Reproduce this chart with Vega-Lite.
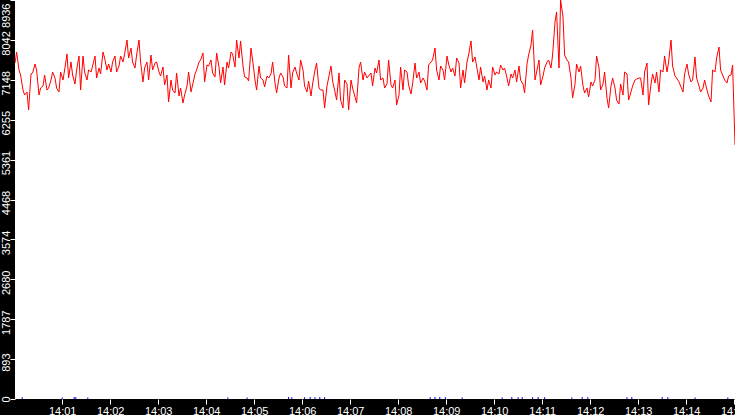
{
  "$schema": "https://vega.github.io/schema/vega-lite/v6.json",
  "description": "Red time series over one quarter hour, black frame with white axis labels.",
  "width": 720,
  "height": 399,
  "autosize": {"type": "none"},
  "padding": {"left": 15, "top": 0, "right": 0, "bottom": 16},
  "background": "black",
  "config": {
    "view": {"stroke": null, "fill": "white"},
    "font": "Liberation Sans",
    "axis": {
      "domain": false,
      "grid": false,
      "title": null,
      "tickColor": "white",
      "tickSize": 5,
      "tickWidth": 1,
      "labelColor": "white",
      "labelFont": "Liberation Sans",
      "labelFontSize": 11,
      "labelOverlap": false,
      "labelBound": false,
      "labelFlush": false
    }
  },
  "encoding": {
    "x": {
      "field": "t",
      "type": "temporal",
      "scale": {"type": "utc", "domain": [1704117601000, 1704118501000], "nice": false},
      "axis": {
        "orient": "bottom",
        "labelExpr": "utcFormat(datum.value, '%H:%M')",
        "values": [1704117660000, 1704117720000, 1704117780000, 1704117840000, 1704117900000, 1704117960000, 1704118020000, 1704118080000, 1704118140000, 1704118200000, 1704118260000, 1704118320000, 1704118380000, 1704118440000, 1704118500000],
        "labelPadding": 1
      }
    },
    "y": {
      "field": "v",
      "type": "quantitative",
      "scale": {"domain": [0, 8936], "nice": false, "zero": true},
      "axis": {
        "orient": "left",
        "values": [0, 893.6, 1787.2, 2680.8, 3574.4, 4468, 5361.6, 6255.2, 7148.8, 8042.4, 8936],
        "labelExpr": "'' + floor(datum.value)",
        "labelAngle": -90,
        "labelAlign": {"condition": [{"test": "datum.value > 8900", "value": "right"}, {"test": "datum.value < 1", "value": "left"}], "value": "center"},
        "labelOffset": 3,
        "labelBaseline": "alphabetic",
        "labelPadding": 1
      }
    }
  },
  "layer": [
    {
      "data": {
        "values": [
          {"t": "2024-01-01T14:00:10Z", "v": 40}, {"t": "2024-01-01T14:01:00Z", "v": 35}, {"t": "2024-01-01T14:01:15Z", "v": 45}, {"t": "2024-01-01T14:01:17Z", "v": 40},
          {"t": "2024-01-01T14:01:32Z", "v": 35}, {"t": "2024-01-01T14:04:27Z", "v": 35}, {"t": "2024-01-01T14:04:51Z", "v": 35}, {"t": "2024-01-01T14:05:43Z", "v": 45},
          {"t": "2024-01-01T14:05:47Z", "v": 40}, {"t": "2024-01-01T14:06:03Z", "v": 40}, {"t": "2024-01-01T14:06:10Z", "v": 45}, {"t": "2024-01-01T14:06:16Z", "v": 40},
          {"t": "2024-01-01T14:06:22Z", "v": 45}, {"t": "2024-01-01T14:06:28Z", "v": 40}, {"t": "2024-01-01T14:08:40Z", "v": 40}, {"t": "2024-01-01T14:08:46Z", "v": 45},
          {"t": "2024-01-01T14:08:52Z", "v": 45}, {"t": "2024-01-01T14:08:59Z", "v": 40}, {"t": "2024-01-01T14:09:20Z", "v": 35}, {"t": "2024-01-01T14:10:10Z", "v": 35},
          {"t": "2024-01-01T14:10:22Z", "v": 45}, {"t": "2024-01-01T14:10:30Z", "v": 40}, {"t": "2024-01-01T14:10:35Z", "v": 45}, {"t": "2024-01-01T14:10:48Z", "v": 40},
          {"t": "2024-01-01T14:10:55Z", "v": 45}, {"t": "2024-01-01T14:11:03Z", "v": 40}, {"t": "2024-01-01T14:11:37Z", "v": 35}, {"t": "2024-01-01T14:11:50Z", "v": 45},
          {"t": "2024-01-01T14:11:57Z", "v": 40}, {"t": "2024-01-01T14:12:46Z", "v": 40}, {"t": "2024-01-01T14:12:52Z", "v": 45}, {"t": "2024-01-01T14:13:30Z", "v": 45},
          {"t": "2024-01-01T14:13:37Z", "v": 40}, {"t": "2024-01-01T14:14:11Z", "v": 35}, {"t": "2024-01-01T14:14:52Z", "v": 35}
        ]
      },
      "mark": {"type": "rule", "color": "#0000ff", "strokeWidth": 1},
      "encoding": {"y2": {"datum": 0}}
    },
    {
      "data": {
        "values": [
          {"t": "2024-01-01T14:00:01Z", "v": 7525}, {"t": "2024-01-01T14:00:03Z", "v": 7771}, {"t": "2024-01-01T14:00:06Z", "v": 7368}, {"t": "2024-01-01T14:00:08Z", "v": 7256},
          {"t": "2024-01-01T14:00:11Z", "v": 6920}, {"t": "2024-01-01T14:00:13Z", "v": 6808}, {"t": "2024-01-01T14:00:16Z", "v": 6876}, {"t": "2024-01-01T14:00:18Z", "v": 6472},
          {"t": "2024-01-01T14:00:21Z", "v": 7279}, {"t": "2024-01-01T14:00:23Z", "v": 7301}, {"t": "2024-01-01T14:00:26Z", "v": 7503}, {"t": "2024-01-01T14:00:28Z", "v": 7368},
          {"t": "2024-01-01T14:00:31Z", "v": 6808}, {"t": "2024-01-01T14:00:33Z", "v": 6965}, {"t": "2024-01-01T14:00:36Z", "v": 7010}, {"t": "2024-01-01T14:00:38Z", "v": 7256},
          {"t": "2024-01-01T14:00:41Z", "v": 6920}, {"t": "2024-01-01T14:00:43Z", "v": 6965}, {"t": "2024-01-01T14:00:46Z", "v": 7144}, {"t": "2024-01-01T14:00:48Z", "v": 7323},
          {"t": "2024-01-01T14:00:51Z", "v": 7189}, {"t": "2024-01-01T14:00:53Z", "v": 6965}, {"t": "2024-01-01T14:00:56Z", "v": 6876}, {"t": "2024-01-01T14:00:58Z", "v": 7323},
          {"t": "2024-01-01T14:01:01Z", "v": 7144}, {"t": "2024-01-01T14:01:03Z", "v": 7368}, {"t": "2024-01-01T14:01:06Z", "v": 7727}, {"t": "2024-01-01T14:01:08Z", "v": 7189},
          {"t": "2024-01-01T14:01:11Z", "v": 7547}, {"t": "2024-01-01T14:01:13Z", "v": 7256}, {"t": "2024-01-01T14:01:16Z", "v": 7055}, {"t": "2024-01-01T14:01:18Z", "v": 7368},
          {"t": "2024-01-01T14:01:21Z", "v": 7682}, {"t": "2024-01-01T14:01:23Z", "v": 6920}, {"t": "2024-01-01T14:01:26Z", "v": 7682}, {"t": "2024-01-01T14:01:28Z", "v": 7323},
          {"t": "2024-01-01T14:01:31Z", "v": 7144}, {"t": "2024-01-01T14:01:33Z", "v": 7368}, {"t": "2024-01-01T14:01:36Z", "v": 7323}, {"t": "2024-01-01T14:01:38Z", "v": 7458},
          {"t": "2024-01-01T14:01:41Z", "v": 7682}, {"t": "2024-01-01T14:01:43Z", "v": 7189}, {"t": "2024-01-01T14:01:46Z", "v": 7413}, {"t": "2024-01-01T14:01:48Z", "v": 7279},
          {"t": "2024-01-01T14:01:51Z", "v": 7771}, {"t": "2024-01-01T14:01:53Z", "v": 7637}, {"t": "2024-01-01T14:01:56Z", "v": 7368}, {"t": "2024-01-01T14:01:58Z", "v": 7503},
          {"t": "2024-01-01T14:02:01Z", "v": 7323}, {"t": "2024-01-01T14:02:03Z", "v": 7547}, {"t": "2024-01-01T14:02:06Z", "v": 7682}, {"t": "2024-01-01T14:02:08Z", "v": 7323},
          {"t": "2024-01-01T14:02:11Z", "v": 7458}, {"t": "2024-01-01T14:02:13Z", "v": 7682}, {"t": "2024-01-01T14:02:16Z", "v": 7547}, {"t": "2024-01-01T14:02:18Z", "v": 7727},
          {"t": "2024-01-01T14:02:21Z", "v": 8040}, {"t": "2024-01-01T14:02:23Z", "v": 7637}, {"t": "2024-01-01T14:02:26Z", "v": 7861}, {"t": "2024-01-01T14:02:28Z", "v": 7547},
          {"t": "2024-01-01T14:02:31Z", "v": 7413}, {"t": "2024-01-01T14:02:33Z", "v": 7704}, {"t": "2024-01-01T14:02:36Z", "v": 8040}, {"t": "2024-01-01T14:02:38Z", "v": 7547},
          {"t": "2024-01-01T14:02:41Z", "v": 7100}, {"t": "2024-01-01T14:02:43Z", "v": 7413}, {"t": "2024-01-01T14:02:46Z", "v": 7547}, {"t": "2024-01-01T14:02:48Z", "v": 7144},
          {"t": "2024-01-01T14:02:51Z", "v": 7704}, {"t": "2024-01-01T14:02:53Z", "v": 7368}, {"t": "2024-01-01T14:02:56Z", "v": 7525}, {"t": "2024-01-01T14:02:58Z", "v": 7547},
          {"t": "2024-01-01T14:03:01Z", "v": 7323}, {"t": "2024-01-01T14:03:03Z", "v": 7234}, {"t": "2024-01-01T14:03:06Z", "v": 7435}, {"t": "2024-01-01T14:03:08Z", "v": 7032},
          {"t": "2024-01-01T14:03:11Z", "v": 7256}, {"t": "2024-01-01T14:03:13Z", "v": 6652}, {"t": "2024-01-01T14:03:16Z", "v": 7144}, {"t": "2024-01-01T14:03:18Z", "v": 6920},
          {"t": "2024-01-01T14:03:21Z", "v": 6853}, {"t": "2024-01-01T14:03:23Z", "v": 7301}, {"t": "2024-01-01T14:03:26Z", "v": 6786}, {"t": "2024-01-01T14:03:28Z", "v": 6965},
          {"t": "2024-01-01T14:03:31Z", "v": 6629}, {"t": "2024-01-01T14:03:33Z", "v": 6808}, {"t": "2024-01-01T14:03:36Z", "v": 7010}, {"t": "2024-01-01T14:03:38Z", "v": 7323},
          {"t": "2024-01-01T14:03:41Z", "v": 6876}, {"t": "2024-01-01T14:03:43Z", "v": 7032}, {"t": "2024-01-01T14:03:46Z", "v": 7279}, {"t": "2024-01-01T14:03:48Z", "v": 7368},
          {"t": "2024-01-01T14:03:51Z", "v": 7547}, {"t": "2024-01-01T14:03:53Z", "v": 7592}, {"t": "2024-01-01T14:03:56Z", "v": 7749}, {"t": "2024-01-01T14:03:58Z", "v": 7100},
          {"t": "2024-01-01T14:04:01Z", "v": 7480}, {"t": "2024-01-01T14:04:03Z", "v": 7458}, {"t": "2024-01-01T14:04:06Z", "v": 7592}, {"t": "2024-01-01T14:04:08Z", "v": 7301},
          {"t": "2024-01-01T14:04:11Z", "v": 7212}, {"t": "2024-01-01T14:04:13Z", "v": 7749}, {"t": "2024-01-01T14:04:16Z", "v": 7435}, {"t": "2024-01-01T14:04:18Z", "v": 7077},
          {"t": "2024-01-01T14:04:21Z", "v": 7435}, {"t": "2024-01-01T14:04:23Z", "v": 7032}, {"t": "2024-01-01T14:04:26Z", "v": 7547}, {"t": "2024-01-01T14:04:28Z", "v": 7413},
          {"t": "2024-01-01T14:04:31Z", "v": 7771}, {"t": "2024-01-01T14:04:33Z", "v": 7727}, {"t": "2024-01-01T14:04:36Z", "v": 7435}, {"t": "2024-01-01T14:04:38Z", "v": 8040},
          {"t": "2024-01-01T14:04:41Z", "v": 7637}, {"t": "2024-01-01T14:04:43Z", "v": 8018}, {"t": "2024-01-01T14:04:46Z", "v": 7458}, {"t": "2024-01-01T14:04:48Z", "v": 7212},
          {"t": "2024-01-01T14:04:51Z", "v": 7189}, {"t": "2024-01-01T14:04:53Z", "v": 7122}, {"t": "2024-01-01T14:04:56Z", "v": 7861}, {"t": "2024-01-01T14:04:58Z", "v": 7592},
          {"t": "2024-01-01T14:05:01Z", "v": 7144}, {"t": "2024-01-01T14:05:03Z", "v": 6920}, {"t": "2024-01-01T14:05:06Z", "v": 7458}, {"t": "2024-01-01T14:05:08Z", "v": 7189},
          {"t": "2024-01-01T14:05:11Z", "v": 7144}, {"t": "2024-01-01T14:05:13Z", "v": 6988}, {"t": "2024-01-01T14:05:16Z", "v": 7234}, {"t": "2024-01-01T14:05:18Z", "v": 7189},
          {"t": "2024-01-01T14:05:21Z", "v": 7279}, {"t": "2024-01-01T14:05:23Z", "v": 7547}, {"t": "2024-01-01T14:05:26Z", "v": 7077}, {"t": "2024-01-01T14:05:28Z", "v": 6853},
          {"t": "2024-01-01T14:05:31Z", "v": 7189}, {"t": "2024-01-01T14:05:33Z", "v": 7301}, {"t": "2024-01-01T14:05:36Z", "v": 7212}, {"t": "2024-01-01T14:05:38Z", "v": 7010},
          {"t": "2024-01-01T14:05:41Z", "v": 6965}, {"t": "2024-01-01T14:05:43Z", "v": 7704}, {"t": "2024-01-01T14:05:46Z", "v": 6965}, {"t": "2024-01-01T14:05:48Z", "v": 7301},
          {"t": "2024-01-01T14:05:51Z", "v": 7435}, {"t": "2024-01-01T14:05:53Z", "v": 7301}, {"t": "2024-01-01T14:05:56Z", "v": 7144}, {"t": "2024-01-01T14:05:58Z", "v": 7592},
          {"t": "2024-01-01T14:06:01Z", "v": 7368}, {"t": "2024-01-01T14:06:03Z", "v": 7010}, {"t": "2024-01-01T14:06:06Z", "v": 6876}, {"t": "2024-01-01T14:06:08Z", "v": 7122},
          {"t": "2024-01-01T14:06:11Z", "v": 6786}, {"t": "2024-01-01T14:06:13Z", "v": 7055}, {"t": "2024-01-01T14:06:16Z", "v": 7368}, {"t": "2024-01-01T14:06:18Z", "v": 7525},
          {"t": "2024-01-01T14:06:21Z", "v": 6965}, {"t": "2024-01-01T14:06:23Z", "v": 6920}, {"t": "2024-01-01T14:06:26Z", "v": 6920}, {"t": "2024-01-01T14:06:28Z", "v": 6517},
          {"t": "2024-01-01T14:06:31Z", "v": 7010}, {"t": "2024-01-01T14:06:33Z", "v": 7189}, {"t": "2024-01-01T14:06:36Z", "v": 7458}, {"t": "2024-01-01T14:06:38Z", "v": 7122},
          {"t": "2024-01-01T14:06:41Z", "v": 6876}, {"t": "2024-01-01T14:06:43Z", "v": 6696}, {"t": "2024-01-01T14:06:46Z", "v": 7301}, {"t": "2024-01-01T14:06:48Z", "v": 6696},
          {"t": "2024-01-01T14:06:51Z", "v": 6517}, {"t": "2024-01-01T14:06:53Z", "v": 7144}, {"t": "2024-01-01T14:06:56Z", "v": 7055}, {"t": "2024-01-01T14:06:58Z", "v": 6472},
          {"t": "2024-01-01T14:07:01Z", "v": 7144}, {"t": "2024-01-01T14:07:03Z", "v": 6965}, {"t": "2024-01-01T14:07:06Z", "v": 6764}, {"t": "2024-01-01T14:07:08Z", "v": 6629},
          {"t": "2024-01-01T14:07:11Z", "v": 7413}, {"t": "2024-01-01T14:07:13Z", "v": 7547}, {"t": "2024-01-01T14:07:16Z", "v": 7144}, {"t": "2024-01-01T14:07:18Z", "v": 7323},
          {"t": "2024-01-01T14:07:21Z", "v": 7189}, {"t": "2024-01-01T14:07:23Z", "v": 7234}, {"t": "2024-01-01T14:07:26Z", "v": 7301}, {"t": "2024-01-01T14:07:28Z", "v": 7010},
          {"t": "2024-01-01T14:07:31Z", "v": 7413}, {"t": "2024-01-01T14:07:33Z", "v": 7301}, {"t": "2024-01-01T14:07:36Z", "v": 7592}, {"t": "2024-01-01T14:07:38Z", "v": 7144},
          {"t": "2024-01-01T14:07:41Z", "v": 7189}, {"t": "2024-01-01T14:07:43Z", "v": 6965}, {"t": "2024-01-01T14:07:46Z", "v": 7055}, {"t": "2024-01-01T14:07:48Z", "v": 7592},
          {"t": "2024-01-01T14:07:51Z", "v": 7032}, {"t": "2024-01-01T14:07:53Z", "v": 6965}, {"t": "2024-01-01T14:07:56Z", "v": 7144}, {"t": "2024-01-01T14:07:58Z", "v": 6584},
          {"t": "2024-01-01T14:08:01Z", "v": 6808}, {"t": "2024-01-01T14:08:03Z", "v": 7435}, {"t": "2024-01-01T14:08:06Z", "v": 6920}, {"t": "2024-01-01T14:08:08Z", "v": 7368},
          {"t": "2024-01-01T14:08:11Z", "v": 7323}, {"t": "2024-01-01T14:08:13Z", "v": 7032}, {"t": "2024-01-01T14:08:16Z", "v": 6831}, {"t": "2024-01-01T14:08:18Z", "v": 7055},
          {"t": "2024-01-01T14:08:21Z", "v": 7525}, {"t": "2024-01-01T14:08:23Z", "v": 7189}, {"t": "2024-01-01T14:08:26Z", "v": 7323}, {"t": "2024-01-01T14:08:28Z", "v": 7077},
          {"t": "2024-01-01T14:08:31Z", "v": 7189}, {"t": "2024-01-01T14:08:33Z", "v": 7122}, {"t": "2024-01-01T14:08:36Z", "v": 6920}, {"t": "2024-01-01T14:08:38Z", "v": 7480},
          {"t": "2024-01-01T14:08:41Z", "v": 7547}, {"t": "2024-01-01T14:08:43Z", "v": 7592}, {"t": "2024-01-01T14:08:46Z", "v": 7861}, {"t": "2024-01-01T14:08:48Z", "v": 7368},
          {"t": "2024-01-01T14:08:51Z", "v": 7144}, {"t": "2024-01-01T14:08:53Z", "v": 7458}, {"t": "2024-01-01T14:08:56Z", "v": 7368}, {"t": "2024-01-01T14:08:58Z", "v": 7144},
          {"t": "2024-01-01T14:09:01Z", "v": 7682}, {"t": "2024-01-01T14:09:03Z", "v": 7503}, {"t": "2024-01-01T14:09:06Z", "v": 7323}, {"t": "2024-01-01T14:09:08Z", "v": 7413},
          {"t": "2024-01-01T14:09:11Z", "v": 7234}, {"t": "2024-01-01T14:09:13Z", "v": 7637}, {"t": "2024-01-01T14:09:16Z", "v": 7525}, {"t": "2024-01-01T14:09:18Z", "v": 6965},
          {"t": "2024-01-01T14:09:21Z", "v": 7368}, {"t": "2024-01-01T14:09:23Z", "v": 7077}, {"t": "2024-01-01T14:09:26Z", "v": 7547}, {"t": "2024-01-01T14:09:28Z", "v": 7704},
          {"t": "2024-01-01T14:09:31Z", "v": 8018}, {"t": "2024-01-01T14:09:33Z", "v": 7547}, {"t": "2024-01-01T14:09:36Z", "v": 7659}, {"t": "2024-01-01T14:09:38Z", "v": 7458},
          {"t": "2024-01-01T14:09:41Z", "v": 7144}, {"t": "2024-01-01T14:09:43Z", "v": 7435}, {"t": "2024-01-01T14:09:46Z", "v": 7100}, {"t": "2024-01-01T14:09:48Z", "v": 7234},
          {"t": "2024-01-01T14:09:51Z", "v": 6920}, {"t": "2024-01-01T14:09:53Z", "v": 7144}, {"t": "2024-01-01T14:09:56Z", "v": 6965}, {"t": "2024-01-01T14:09:58Z", "v": 7435},
          {"t": "2024-01-01T14:10:01Z", "v": 7256}, {"t": "2024-01-01T14:10:03Z", "v": 7323}, {"t": "2024-01-01T14:10:06Z", "v": 7279}, {"t": "2024-01-01T14:10:08Z", "v": 7480},
          {"t": "2024-01-01T14:10:11Z", "v": 7368}, {"t": "2024-01-01T14:10:13Z", "v": 7413}, {"t": "2024-01-01T14:10:16Z", "v": 7189}, {"t": "2024-01-01T14:10:18Z", "v": 7010},
          {"t": "2024-01-01T14:10:21Z", "v": 7279}, {"t": "2024-01-01T14:10:23Z", "v": 7189}, {"t": "2024-01-01T14:10:26Z", "v": 7368}, {"t": "2024-01-01T14:10:28Z", "v": 7100},
          {"t": "2024-01-01T14:10:31Z", "v": 7458}, {"t": "2024-01-01T14:10:33Z", "v": 7144}, {"t": "2024-01-01T14:10:36Z", "v": 7055}, {"t": "2024-01-01T14:10:38Z", "v": 6853},
          {"t": "2024-01-01T14:10:41Z", "v": 7503}, {"t": "2024-01-01T14:10:43Z", "v": 7704}, {"t": "2024-01-01T14:10:46Z", "v": 7928}, {"t": "2024-01-01T14:10:48Z", "v": 8264},
          {"t": "2024-01-01T14:10:51Z", "v": 7144}, {"t": "2024-01-01T14:10:53Z", "v": 7323}, {"t": "2024-01-01T14:10:56Z", "v": 7592}, {"t": "2024-01-01T14:10:58Z", "v": 7032},
          {"t": "2024-01-01T14:11:01Z", "v": 7234}, {"t": "2024-01-01T14:11:03Z", "v": 7413}, {"t": "2024-01-01T14:11:06Z", "v": 7547}, {"t": "2024-01-01T14:11:08Z", "v": 7592},
          {"t": "2024-01-01T14:11:11Z", "v": 7413}, {"t": "2024-01-01T14:11:13Z", "v": 7704}, {"t": "2024-01-01T14:11:16Z", "v": 8443}, {"t": "2024-01-01T14:11:18Z", "v": 8667},
          {"t": "2024-01-01T14:11:21Z", "v": 7413}, {"t": "2024-01-01T14:11:23Z", "v": 8936}, {"t": "2024-01-01T14:11:26Z", "v": 8555}, {"t": "2024-01-01T14:11:28Z", "v": 7704},
          {"t": "2024-01-01T14:11:31Z", "v": 7592}, {"t": "2024-01-01T14:11:33Z", "v": 7547}, {"t": "2024-01-01T14:11:36Z", "v": 7189}, {"t": "2024-01-01T14:11:38Z", "v": 6741},
          {"t": "2024-01-01T14:11:41Z", "v": 7055}, {"t": "2024-01-01T14:11:43Z", "v": 7503}, {"t": "2024-01-01T14:11:46Z", "v": 7323}, {"t": "2024-01-01T14:11:48Z", "v": 7458},
          {"t": "2024-01-01T14:11:51Z", "v": 7010}, {"t": "2024-01-01T14:11:53Z", "v": 6853}, {"t": "2024-01-01T14:11:56Z", "v": 6965}, {"t": "2024-01-01T14:11:58Z", "v": 6764},
          {"t": "2024-01-01T14:12:01Z", "v": 7100}, {"t": "2024-01-01T14:12:03Z", "v": 7010}, {"t": "2024-01-01T14:12:06Z", "v": 7144}, {"t": "2024-01-01T14:12:08Z", "v": 7682},
          {"t": "2024-01-01T14:12:11Z", "v": 7413}, {"t": "2024-01-01T14:12:13Z", "v": 6920}, {"t": "2024-01-01T14:12:16Z", "v": 7055}, {"t": "2024-01-01T14:12:18Z", "v": 7323},
          {"t": "2024-01-01T14:12:21Z", "v": 6741}, {"t": "2024-01-01T14:12:23Z", "v": 6517}, {"t": "2024-01-01T14:12:26Z", "v": 7010}, {"t": "2024-01-01T14:12:28Z", "v": 7189},
          {"t": "2024-01-01T14:12:31Z", "v": 6965}, {"t": "2024-01-01T14:12:33Z", "v": 6696}, {"t": "2024-01-01T14:12:36Z", "v": 6607}, {"t": "2024-01-01T14:12:38Z", "v": 7055},
          {"t": "2024-01-01T14:12:41Z", "v": 6808}, {"t": "2024-01-01T14:12:43Z", "v": 7323}, {"t": "2024-01-01T14:12:46Z", "v": 7279}, {"t": "2024-01-01T14:12:48Z", "v": 6696},
          {"t": "2024-01-01T14:12:51Z", "v": 6876}, {"t": "2024-01-01T14:12:53Z", "v": 7010}, {"t": "2024-01-01T14:12:56Z", "v": 7144}, {"t": "2024-01-01T14:12:58Z", "v": 7167},
          {"t": "2024-01-01T14:13:01Z", "v": 7189}, {"t": "2024-01-01T14:13:03Z", "v": 7189}, {"t": "2024-01-01T14:13:06Z", "v": 6808}, {"t": "2024-01-01T14:13:08Z", "v": 7323},
          {"t": "2024-01-01T14:13:11Z", "v": 7525}, {"t": "2024-01-01T14:13:13Z", "v": 6584}, {"t": "2024-01-01T14:13:16Z", "v": 7055}, {"t": "2024-01-01T14:13:18Z", "v": 7279},
          {"t": "2024-01-01T14:13:21Z", "v": 7077}, {"t": "2024-01-01T14:13:23Z", "v": 7323}, {"t": "2024-01-01T14:13:26Z", "v": 6876}, {"t": "2024-01-01T14:13:28Z", "v": 7368},
          {"t": "2024-01-01T14:13:31Z", "v": 7323}, {"t": "2024-01-01T14:13:33Z", "v": 7682}, {"t": "2024-01-01T14:13:36Z", "v": 7323}, {"t": "2024-01-01T14:13:38Z", "v": 7547},
          {"t": "2024-01-01T14:13:41Z", "v": 8040}, {"t": "2024-01-01T14:13:43Z", "v": 7458}, {"t": "2024-01-01T14:13:46Z", "v": 7234}, {"t": "2024-01-01T14:13:48Z", "v": 7189},
          {"t": "2024-01-01T14:13:51Z", "v": 7100}, {"t": "2024-01-01T14:13:53Z", "v": 7010}, {"t": "2024-01-01T14:13:56Z", "v": 6876}, {"t": "2024-01-01T14:13:58Z", "v": 7279},
          {"t": "2024-01-01T14:14:01Z", "v": 7503}, {"t": "2024-01-01T14:14:03Z", "v": 7279}, {"t": "2024-01-01T14:14:06Z", "v": 7100}, {"t": "2024-01-01T14:14:08Z", "v": 7144},
          {"t": "2024-01-01T14:14:11Z", "v": 7659}, {"t": "2024-01-01T14:14:13Z", "v": 7189}, {"t": "2024-01-01T14:14:16Z", "v": 7010}, {"t": "2024-01-01T14:14:18Z", "v": 6876},
          {"t": "2024-01-01T14:14:21Z", "v": 6965}, {"t": "2024-01-01T14:14:23Z", "v": 7144}, {"t": "2024-01-01T14:14:26Z", "v": 6920}, {"t": "2024-01-01T14:14:28Z", "v": 6786},
          {"t": "2024-01-01T14:14:31Z", "v": 6652}, {"t": "2024-01-01T14:14:33Z", "v": 7368}, {"t": "2024-01-01T14:14:36Z", "v": 7323}, {"t": "2024-01-01T14:14:38Z", "v": 7637},
          {"t": "2024-01-01T14:14:41Z", "v": 7883}, {"t": "2024-01-01T14:14:43Z", "v": 7368}, {"t": "2024-01-01T14:14:46Z", "v": 7234}, {"t": "2024-01-01T14:14:48Z", "v": 7144},
          {"t": "2024-01-01T14:14:51Z", "v": 7077}, {"t": "2024-01-01T14:14:53Z", "v": 7234}, {"t": "2024-01-01T14:14:56Z", "v": 7256}, {"t": "2024-01-01T14:14:58Z", "v": 7480},
          {"t": "2024-01-01T14:15:01Z", "v": 5689}
        ]
      },
      "mark": {"type": "line", "color": "#ff0000", "strokeWidth": 1, "clip": true}
    }
  ]
}
